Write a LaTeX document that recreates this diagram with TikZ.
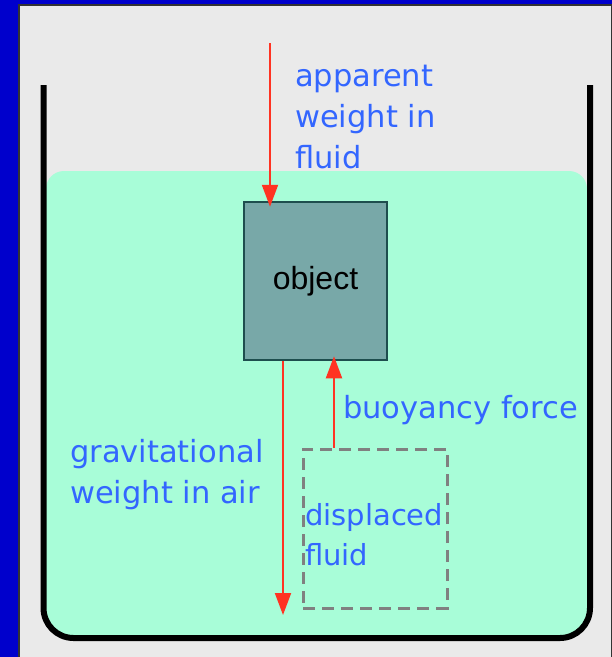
\documentclass[tikz,border=0pt]{standalone}
\usepackage{fontspec}
\usepackage{tikz}
\usetikzlibrary{arrows.meta,positioning,calc}
\newfontfamily\labelfont{DejaVu Sans}
\newfontfamily\objfont{Liberation Sans}
\definecolor{frameblue}{HTML}{0000CC}
\definecolor{panelgray}{HTML}{EAEAEA}
\definecolor{fluidgreen}{HTML}{A8FDD8}
\definecolor{objfill}{HTML}{78A8A8}
\definecolor{objdraw}{HTML}{1E4E4E}
\definecolor{labelblue}{HTML}{3366FF}
\definecolor{forcered}{HTML}{FF3322}
\definecolor{dashgray}{HTML}{808080}

\begin{document}
\begin{tikzpicture}[
    x=1pt,y=-1pt,
    line cap=butt,
    force/.style={-{Triangle[length=22pt,width=16pt]}, line width=2pt, draw=forcered},
    forcelabel/.style={font=\labelfont\fontsize{30.5}{41}\selectfont, text=labelblue, align=left, inner sep=0pt},
    objbox/.style={draw=objdraw, fill=objfill, line width=2.5pt, minimum width=143pt, minimum height=158pt, inner sep=0pt, font=\objfont\fontsize{32}{38}\selectfont},
    fluidbox/.style={draw=dashgray, line width=3pt, dash pattern=on 12pt off 7pt, minimum width=144pt, minimum height=159pt, inner sep=0pt}
]
\useasboundingbox (0,0) rectangle (612,657);

% Frame
\fill[frameblue] (0,0) rectangle (612,657);
\fill[panelgray] (18,5) rectangle (612,657);
\draw[black!80, line width=1.5pt] (18.75,657) -- (18.75,4.75) -- (611.25,4.75) -- (611.25,657);

% Fluid and container
\fill[fluidgreen, rounded corners=18pt] (46,500) -- (46,171) -- (587,171) -- (587,500) [rounded corners=28pt] -- (587,637) -- (46,637) -- cycle;
\draw[black, line width=6pt, rounded corners=30pt] (43.5,85) -- (43.5,638) -- (590,638) -- (590,85);

% Object and displaced fluid
\node[objbox] (object) at (315.5,281) {object};
\node[fluidbox] (displaced) at (375,528.5) {};

% Forces
\coordinate (apparenttop) at (270,43);
\coordinate (gravitybottom) at (283,615);
\coordinate (buoybase) at ([xshift=-41pt]displaced.north);
\draw[force, shorten >=-6pt] (apparenttop) -- (apparenttop |- object.north);
\draw[force] (object.south -| gravitybottom) -- (gravitybottom);
\draw[force, shorten >=-5pt] (buoybase) -- (buoybase |- object.south);

% Labels (base = last line)
\node[forcelabel, anchor=base west] (apparentlabel) at (295,168) {apparent\\weight in\\fluid};
\node[forcelabel, anchor=base west] (buoylabel) at (343,418) {buoyancy force};
\node[forcelabel, anchor=base west] (gravitylabel) at (70,503) {gravitational\\weight in air};
\node[forcelabel, anchor=base west, font=\labelfont\fontsize{29}{40}\selectfont] (displacedlabel) at (305,565) {displaced\\fluid};

\end{tikzpicture}
\end{document}
